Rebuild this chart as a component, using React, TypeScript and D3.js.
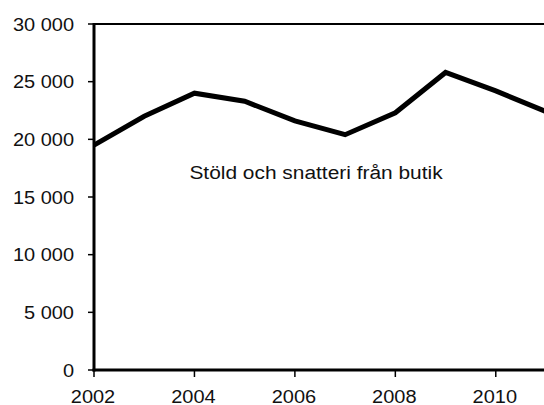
import React from 'react';
import * as d3 from 'd3';

const years = [2002, 2003, 2004, 2005, 2006, 2007, 2008, 2009, 2010, 2011];
const thefts = [19500, 22000, 24000, 23300, 21600, 20400, 22300, 25800, 24200, 22400];
const yTicks = [0, 5000, 10000, 15000, 20000, 25000, 30000];
const xTicks = [2002, 2004, 2006, 2008, 2010];
const seriesLabel = 'Stöld och snatteri från butik';

const width = 544;
const height = 405;
const plot = { left: 94, right: 546, top: 24, bottom: 370 };
const font = '"Liberation Sans", Arial, sans-serif';
const stretch = 1.08; // the source text is a bit wider than plain Arial

const fmt = (v: number) => d3.format(',')(v).replace(/,/g, '\u00a0');

const App = () => {
  const x = d3.scaleLinear().domain([2002, 2011]).range([plot.left, plot.right]);
  const y = d3.scaleLinear().domain([0, 30000]).range([plot.bottom, plot.top]);

  const line = d3.line<number>()
    .x((_, i) => x(years[i]))
    .y(d => y(d));

  return (
    <svg width={width} height={height} style={{ position: 'absolute', left: 0, top: 0, background: '#fff' }}>
      {/* top frame line */}
      <line x1={plot.left} x2={plot.right} y1={plot.top} y2={plot.top} stroke="#000" strokeWidth={2} />

      {/* y axis ticks + labels */}
      {yTicks.map(t => (
        <g key={t}>
          <line x1={plot.left - 6} x2={plot.left} y1={y(t)} y2={y(t)} stroke="#000" strokeWidth={1.5} />
          <text
            transform={`translate(74,${y(t) + 6.5}) scale(${stretch},1)`}
            textAnchor="end"
            fontFamily={font}
            fontSize={18.5}
            fill="#111"
          >
            {fmt(t)}
          </text>
        </g>
      ))}

      {/* x axis ticks + labels */}
      {xTicks.map(t => (
        <g key={t}>
          <line x1={x(t)} x2={x(t)} y1={plot.bottom} y2={plot.bottom + 7} stroke="#000" strokeWidth={1.5} />
          <text
            transform={`translate(${x(t) - 1},403) scale(${stretch},1)`}
            textAnchor="middle"
            fontFamily={font}
            fontSize={18.5}
            fill="#111"
          >
            {t}
          </text>
        </g>
      ))}

      {/* axes */}
      <line x1={plot.left} x2={plot.left} y1={plot.top - 1} y2={plot.bottom + 1.5} stroke="#000" strokeWidth={3} />
      <line x1={plot.left - 1.5} x2={plot.right} y1={plot.bottom} y2={plot.bottom} stroke="#000" strokeWidth={3} />

      {/* series */}
      <path d={line(thefts) || ''} fill="none" stroke="#000" strokeWidth={5} strokeLinejoin="miter" />

      <text
        transform={`translate(316,179) scale(1.1,1)`}
        textAnchor="middle"
        fontFamily={font}
        fontSize={19}
        fill="#111"
      >
        {seriesLabel}
      </text>
    </svg>
  );
};

export default App;
